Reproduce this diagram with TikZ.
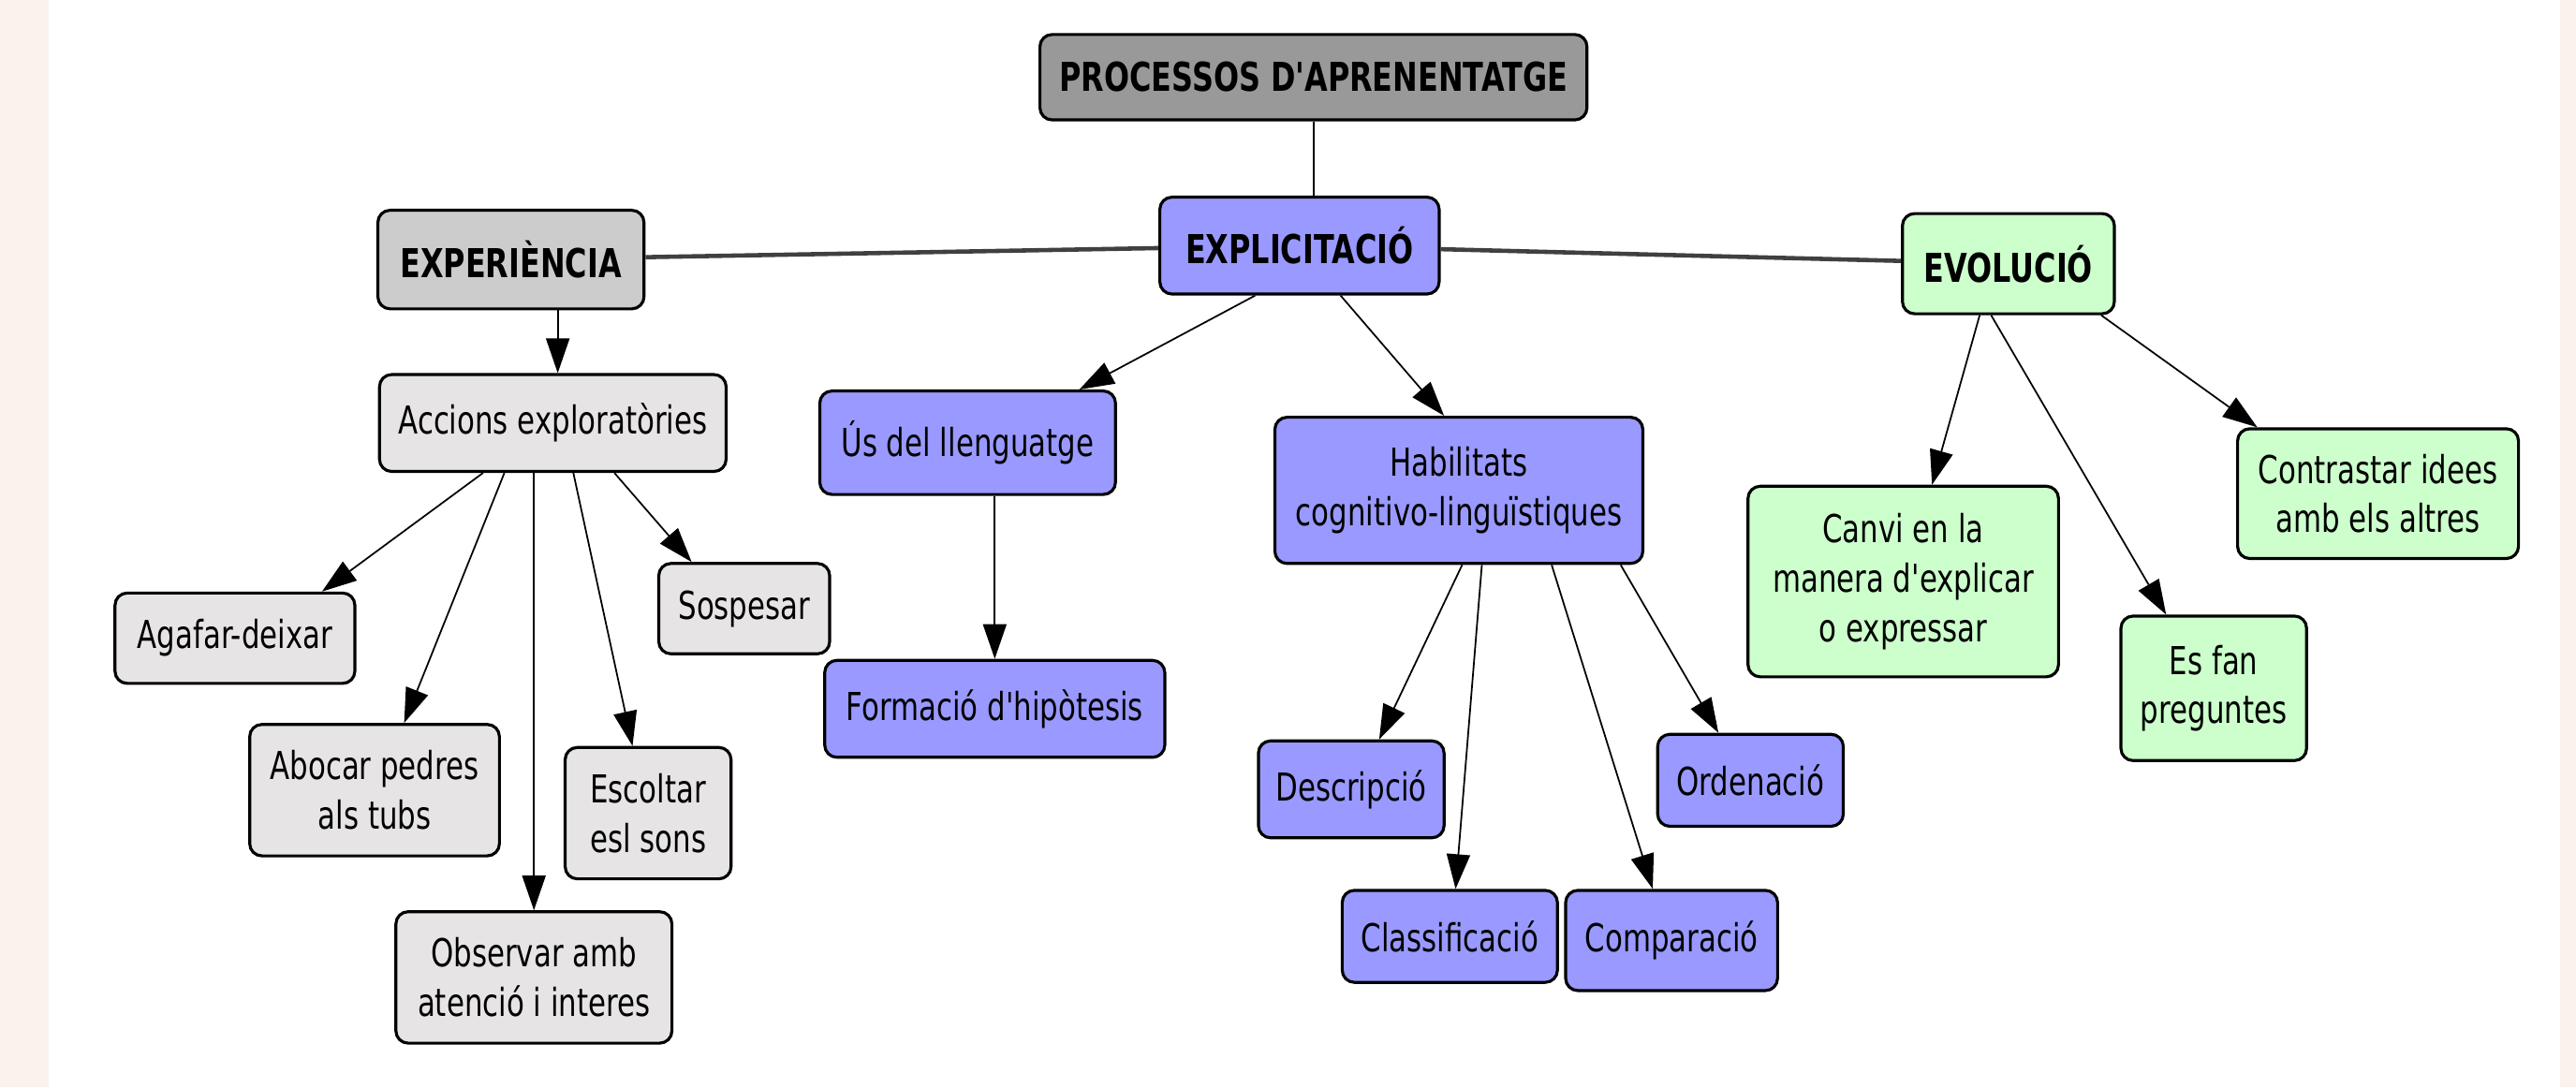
\documentclass[tikz,border=0pt]{standalone}
\usepackage{fontspec}
\setmainfont{DejaVu Sans}[FakeStretch=0.75,Ligatures=TeXOff]
\usetikzlibrary{arrows.meta, calc}
\newlength\px
\setlength\px{0.017545cm}
\definecolor{bgbeige}{RGB}{250,242,236}
\definecolor{rootgray}{RGB}{153,153,153}
\definecolor{expgray}{RGB}{204,204,204}
\definecolor{actgray}{RGB}{230,228,228}
\definecolor{explblue}{RGB}{153,153,255}
\definecolor{evolgreen}{RGB}{204,255,204}
\tikzstyle{concept} = [rectangle, rounded corners=0.13cm, draw=black, line width=0.9pt, inner sep=0pt, align=center, text=black, font=\fontsize{11.7}{15}\selectfont]
\tikzstyle{boldconcept} = [concept, font=\fontsize{12.1}{14}\selectfont\bfseries]
\tikzstyle{rootbox} = [boldconcept, fill=rootgray]
\tikzstyle{expbox} = [boldconcept, fill=expgray]
\tikzstyle{explbox} = [boldconcept, fill=explblue]
\tikzstyle{evolbox} = [boldconcept, fill=evolgreen]
\tikzstyle{actbox} = [concept, fill=actgray]
\tikzstyle{langbox} = [concept, fill=explblue]
\tikzstyle{changebox} = [concept, fill=evolgreen]
\tikzstyle{arrow} = [line width=0.5pt, -{Triangle[length=3.7mm, width=2.5mm]}]
\tikzstyle{link} = [line width=1.3pt, draw=black!75]
\tikzset{boxsize/.style 2 args={minimum width=#1\px, minimum height=#2\px}}

\begin{document}
\begin{tikzpicture}[x=0.017545cm, y=-0.017545cm]

% Background
\useasboundingbox (0,0) rectangle (1568,662);
\fill [bgbeige] (0,0) rectangle (1568,662);
\fill [white] (29.6,0) rectangle (1558.3,662);

% Nodes
\node (procesos) [rootbox, boxsize={333}{52}] at (799.5,47) {PROCESSOS D'APRENENTATGE};
\node (experiencia) [expbox, boxsize={162}{60}] at (311,158) {EXPERIÈNCIA};
\node (explicitacio) [explbox, boxsize={170}{59}] at (791,149.5) {EXPLICITACIÓ};
\node (evolucio) [evolbox, boxsize={129}{61}] at (1222.5,160.5) {EVOLUCIÓ};

\node (accions) [actbox, boxsize={211}{59}] at (336.5,257.5) {Accions exploratòries};
\node (agafar) [actbox, boxsize={146}{55}] at (143,388.5) {Agafar-deixar};
\node (sospesar) [actbox, boxsize={104}{55}] at (453,370.5) {Sospesar};
\node (abocar) [actbox, boxsize={152}{80}] at (228,481) {Abocar pedres\\als tubs};
\node (escoltar) [actbox, boxsize={101}{80}] at (394.5,495) {Escoltar\\esl sons};
\node (observar) [actbox, boxsize={168}{80}] at (325,595) {Observar amb\\atenció i interes};

\node (us) [langbox, boxsize={180}{63}] at (589,269.5) {Ús del llenguatge};
\node (formacio) [langbox, boxsize={207}{59}] at (605.5,431.5) {Formació d'hipòtesis};
\node (habilitats) [langbox, boxsize={224}{89}] at (888,298.5) {Habilitats\\cognitivo-linguïstiques};
\node (descripcio) [langbox, boxsize={113}{59}] at (822.5,480.5) {Descripció};
\node (ordenacio) [langbox, boxsize={113}{56}] at (1065.5,475) {Ordenació};
\node (classificacio) [langbox, boxsize={131}{56}] at (882.5,570) {Classificació};
\node (comparacio) [langbox, boxsize={129}{61}] at (1017.5,572.5) {Comparació};

\node (canvi) [changebox, boxsize={189}{116}] at (1158.5,354) {Canvi en la\\manera d'explicar\\o expressar};
\node (esfan) [changebox, boxsize={113}{88}] at (1347.5,419) {Es fan\\preguntes};
\node (contrastar) [changebox, boxsize={171}{79}] at (1447.5,300.5) {Contrastar idees\\amb els altres};

% Links
\draw [line width=0.6pt] (procesos.south) -- (procesos.south |- explicitacio.north);
\draw [link] (experiencia) -- (explicitacio);
\draw [link] (explicitacio) -- (evolucio);

% Arrows
\draw [arrow] ($(accions.north |- experiencia.south)+(3,0)$) -- ($(accions.north)+(3,0)$);
\draw [arrow] ($(accions.south)+(-42.5,0)$) -- ($(agafar.north)+(53,0)$);
\draw [arrow] ($(accions.south)+(-29.5,0)$) -- ($(abocar.north)+(18,0)$);
\draw [arrow] (observar.north |- accions.south) -- (observar.north);
\draw [arrow] ($(accions.south)+(12.5,0)$) -- ($(escoltar.north)+(-9.5,0)$);
\draw [arrow] ($(accions.south)+(37.5,0)$) -- ($(sospesar.north)+(-32,0)$);

\draw [arrow] ($(explicitacio.south)+(-27,0)$) -- ($(us.north)+(68,0)$);
\draw [arrow] ($(explicitacio.south)+(25,0)$) -- ($(habilitats.north)+(-9,0)$);
\draw [arrow] (formacio.north |- us.south) -- (formacio.north);
\draw [arrow] ($(habilitats.south)+(2,0)$) -- ($(descripcio.north)+(17,0)$);
\draw [arrow] ($(habilitats.south)+(14,0)$) -- ($(classificacio.north)+(3.5,0)$);
\draw [arrow] ($(habilitats.south)+(56.5,0)$) -- ($(comparacio.north)+(-11.5,0)$);
\draw [arrow] ($(habilitats.south)+(98.5,0)$) -- ($(ordenacio.north)+(-19.5,0)$);

\draw [arrow] ($(evolucio.south)+(-17.5,0)$) -- ($(canvi.north)+(17.5,0)$);
\draw [arrow] ($(evolucio.south)+(-10.5,0)$) -- ($(esfan.north)+(-29,0)$);
\draw [arrow] ($(evolucio.south)+(56.5,0)$) -- ($(contrastar.north)+(-73.5,0)$);

\end{tikzpicture}
\end{document}
